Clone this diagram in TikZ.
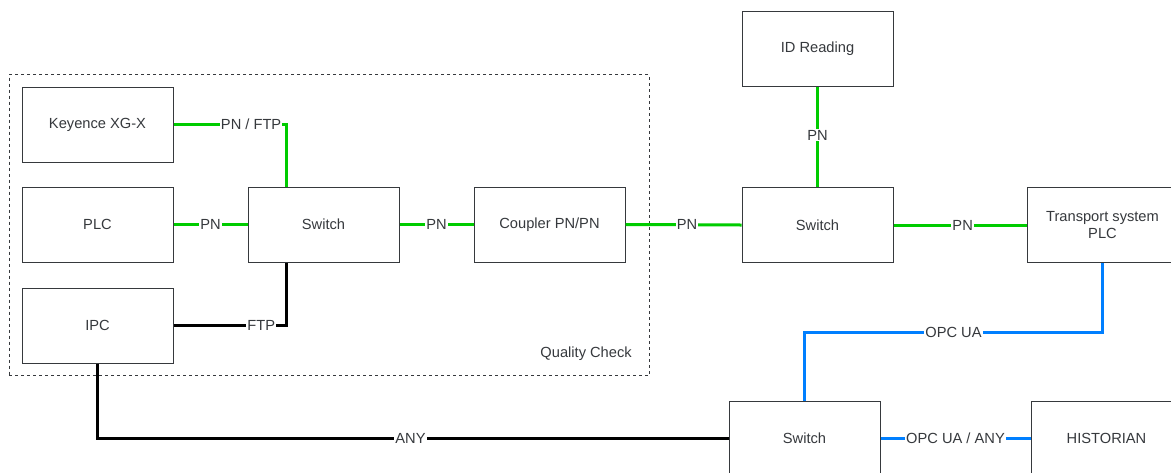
\documentclass[tikz,border=0pt]{standalone}
\usepackage{fontspec}
\setmainfont{Liberation Sans}
\definecolor{pngreen}{HTML}{00CC00}
\definecolor{opcblue}{HTML}{007FFF}
\definecolor{boxgray}{HTML}{36393D}
\begin{document}
\begin{tikzpicture}[x=0.75pt,y=-0.75pt,
  every node/.style={font=\fontsize{11}{13}\selectfont, text=boxgray},
  box/.style={draw=boxgray, line width=0.75pt, fill=white, minimum width=113.25pt, minimum height=56.25pt, inner sep=0pt, align=center},
  lab/.style={fill=white, inner sep=0.8pt},
  pn/.style={draw=pngreen, line width=2.25pt},
  opc/.style={draw=opcblue, line width=2.25pt},
  blk/.style={draw=black, line width=2.25pt},
  frame/.style={draw=boxgray, line width=0.75pt, dash pattern=on 2.25pt off 2.25pt, minimum width=480pt, minimum height=225.75pt, inner sep=0pt}
]
\clip (0,0) rectangle (1171,472);
\useasboundingbox (0,0) rectangle (1171,472);

% group frame
\node[frame] (qc) at (329,225) {};
\node[anchor=east, inner sep=0pt] (qclabel) at (632,354) {Quality Check};

% boxes
\node[box] (key) at (97.5,124.5) {Keyence XG-X};
\node[box] (plc) at (97.5,224.5) {PLC};
\node[box] (ipc) at (97.5,325.5) {IPC};
\node[box] (sw1) at (323.5,224.5) {Switch};
\node[box] (coup) at (549.5,224.5) {Coupler PN/PN};
\node[box] (sw2) at (817.5,225) {Switch};
\node[box] (idr) at (817.5,49) {ID Reading};
\node[box] (tps) at (1102.5,225) {Transport system\\PLC};
\node[box] (sw3) at (804.5,438.5) {Switch};
\node[box] (hist) at (1106.5,438.5) {HISTORIAN};

% connectors
\draw[pn] (key.east) -| node[lab, pos=0.345] {PN / FTP} ([xshift=-28.125pt]sw1.north);
\draw[pn] (plc.east) -- node[lab] {PN} (sw1.west);
\draw[blk] ([xshift=-28.125pt]sw1.south) |- node[lab, pos=0.61] {FTP} (ipc.east);
\draw[pn] (sw1.east) -- node[lab] {PN} (coup.west);
\draw[pn] (coup.east) -- node[lab, pos=0.53] {PN} (sw2.west);
\draw[pn] (idr.south) -- node[lab, pos=0.48] {PN} (sw2.north);
\draw[pn] (sw2.east) -- node[lab, pos=0.52] {PN} (tps.west);
\draw[opc] (tps.south) -- (tps.south |- 0,332) -- node[lab, pos=0.5] {OPC UA} (sw3.north |- 0,332) -- (sw3.north);
\draw[opc] (sw3.east) -- node[lab] {OPC UA / ANY} (hist.west);
\draw[blk] (ipc.south) |- node[lab, pos=0.748] {ANY} (sw3.west);
\end{tikzpicture}
\end{document}
